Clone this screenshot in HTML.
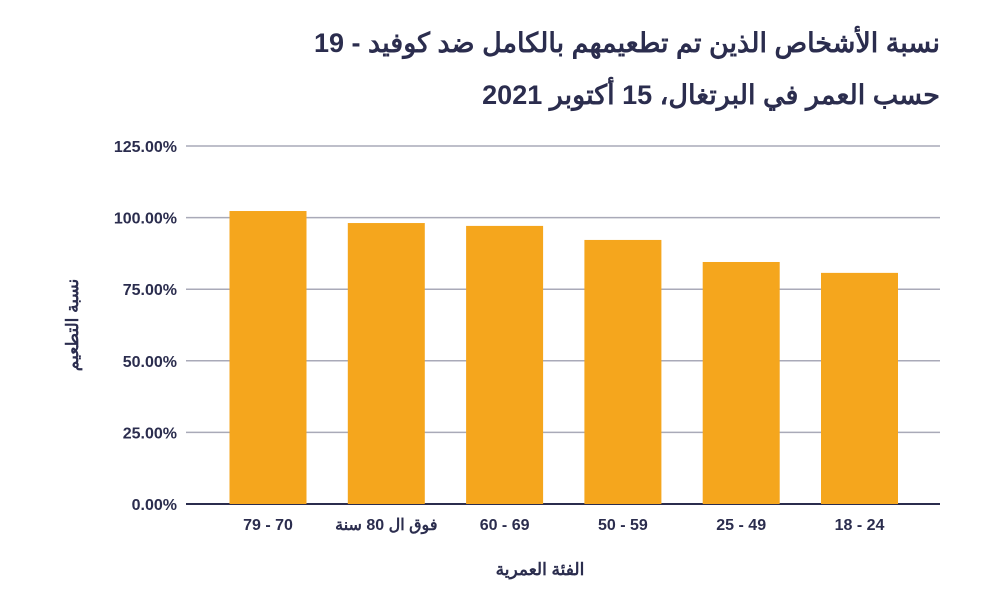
<!DOCTYPE html>
<html><head><meta charset="utf-8"><style>
body{margin:0;background:#fff;width:1000px;height:608px;overflow:hidden;font-family:"Liberation Sans","Noto Sans CJK SC",sans-serif}
</style></head><body>
<svg width="1000" height="608" xmlns="http://www.w3.org/2000/svg" id="c">
<text x="940" y="52" text-anchor="start" direction="rtl" font-size="27" font-weight="bold" fill="#2b2d4e" font-family="Liberation Sans, Noto Sans CJK SC, sans-serif">نسبة الأشخاص الذين تم تطعيمهم بالكامل ضد كوفيد - 19</text>
<text x="940" y="104" text-anchor="start" direction="rtl" font-size="27" font-weight="bold" fill="#2b2d4e" font-family="Liberation Sans, Noto Sans CJK SC, sans-serif">حسب العمر في البرتغال، 15 أكتوبر 2021</text>
<text transform="translate(78,325) rotate(-90)" text-anchor="middle" font-size="17" font-weight="bold" fill="#2b2d4e">نسبة التطعيم</text>
<text x="540" y="575" text-anchor="middle" font-size="17" font-weight="bold" fill="#2b2d4e">الفئة العمرية</text>
<g id="grid"></g><g id="bars"></g><g id="xl"></g>
</svg>
<script>
const categories=["79 - 70","فوق ال 80 سنة","60 - 69","50 - 59","25 - 49","18 - 24"];
const values=[102.3,98.1,97.1,92.2,84.5,80.7];
const ticks=[0,25,50,75,100,125];
const tickLabels=["0.00%","25.00%","50.00%","75.00%","100.00%","125.00%"];
const NS="http://www.w3.org/2000/svg";
const y=v=>504-(v/125)*358;
const bandX=i=>209+i*118.3;
const g=document.getElementById('grid'),b=document.getElementById('bars'),xl=document.getElementById('xl');
ticks.forEach((t,i)=>{
 const l=document.createElementNS(NS,'line');
 
 
 l.setAttribute('x1',186);l.setAttribute('x2',940);l.setAttribute('y1',y(t));l.setAttribute('y2',y(t));
 l.setAttribute('stroke',t===0?'#2b2d4e':'#a9aab8');l.setAttribute('stroke-width',t===0?2:1.5);
 g.appendChild(l);
 const tx=document.createElementNS(NS,'text');
 
 
 tx.setAttribute('x',177);tx.setAttribute('y',y(t)+6);tx.setAttribute('text-anchor','end');
 tx.setAttribute('font-size','16');tx.setAttribute('font-weight','bold');tx.setAttribute('fill','#2b2d4e');
 tx.textContent=tickLabels[i];g.appendChild(tx);
});
categories.forEach((c,i)=>{
 const r=document.createElementNS(NS,'rect');
 
 
 const cx=bandX(i)+59;
 r.setAttribute('x',cx-38.5);r.setAttribute('width',77);r.setAttribute('y',y(values[i]));r.setAttribute('height',504-y(values[i]));
 r.setAttribute('fill','#f5a61d');b.appendChild(r);
 const tx=document.createElementNS(NS,'text');
 
 
 tx.setAttribute('x',cx);tx.setAttribute('y',530);tx.setAttribute('text-anchor','middle');
 tx.setAttribute('font-size','16');tx.setAttribute('font-weight','bold');tx.setAttribute('fill','#2b2d4e');
 tx.textContent=c;xl.appendChild(tx);
});
</script>
</body></html>
